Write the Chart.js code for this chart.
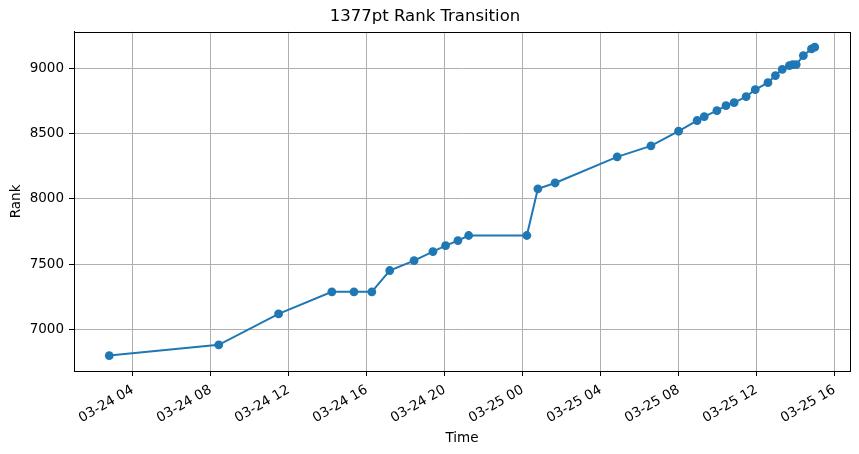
<!DOCTYPE html>
<html>
<head>
<meta charset="utf-8">
<script src="https://cdn.jsdelivr.net/npm/chart.js@4.4.1/dist/chart.umd.min.js"></script>
<style>
  html, body { margin: 0; padding: 0; background: #fff; }
  #wrap { width: 859px; height: 454px; }
</style>
</head>
<body>
<div id="wrap"><canvas id="c" width="859" height="454"></canvas></div>
<script>
// ---- data ----
const times = [
  "03-24 02:48", "03-24 08:25", "03-24 11:29", "03-24 14:13", "03-24 15:21",
  "03-24 16:16", "03-24 17:11", "03-24 18:26", "03-24 19:24", "03-24 20:03",
  "03-24 20:41", "03-24 21:14", "03-25 00:13", "03-25 00:47", "03-25 01:40",
  "03-25 04:51", "03-25 06:35", "03-25 08:00", "03-25 08:57", "03-25 09:19",
  "03-25 09:58", "03-25 10:26", "03-25 10:51", "03-25 11:28", "03-25 11:56",
  "03-25 12:35", "03-25 12:58", "03-25 13:19", "03-25 13:41", "03-25 13:51",
  "03-25 14:02", "03-25 14:24", "03-25 14:49", "03-25 14:59"
];
const ranks = [
  6801, 6883, 7120, 7289, 7289,
  7289, 7452, 7528, 7597, 7643,
  7681, 7720, 7720, 8077, 8122,
  8322, 8406, 8518, 8600, 8630,
  8676, 8714, 8737, 8783, 8837,
  8890, 8944, 8992, 9020, 9028,
  9028, 9097, 9148, 9161
];
const xTickLabels = [
  "03-24 04", "03-24 08", "03-24 12", "03-24 16", "03-24 20",
  "03-25 00", "03-25 04", "03-25 08", "03-25 12", "03-25 16"
];
const yTicks = [7000, 7500, 8000, 8500, 9000];
const titleText = "1377pt Rank Transition";
const xTitle = "Time";
const yTitle = "Rank";

// hours since 03-24 00:00
function toHours(s) {
  const m = s.match(/(\d+)-(\d+) (\d+)(?::(\d+))?/);
  const day = parseInt(m[2], 10);
  const h = parseInt(m[3], 10);
  const min = m[4] ? parseInt(m[4], 10) : 0;
  return (day - 24) * 24 + h + min / 60;
}
const points = times.map((t, i) => ({ x: toHours(t), y: ranks[i] }));
const xTickValues = xTickLabels.map(toHours);

// axis limits with 5% margins like matplotlib
const xs = points.map(p => p.x), ys = ranks;
const xMinD = Math.min(...xs), xMaxD = Math.max(...xs);
const yMinD = Math.min(...ys), yMaxD = Math.max(...ys);
const xm = (xMaxD - xMinD) * 0.05, ym = (yMaxD - yMinD) * 0.05;

const BLUE = '#1f77b4';
const FONT = 'DejaVu Sans';
Chart.defaults.font.family = FONT;
Chart.defaults.color = '#000';

const framePlugin = {
  id: 'frame',
  afterDatasetsDraw(chart) {
    const a = chart.chartArea, ctx = chart.ctx;
    ctx.save();
    ctx.strokeStyle = '#000';
    ctx.lineWidth = 1;
    ctx.strokeRect(Math.round(a.left) + 0.5, Math.round(a.top) + 0.5,
                   Math.round(a.right - a.left), Math.round(a.bottom - a.top));
    ctx.restore();
  }
};

new Chart(document.getElementById('c'), {
  type: 'line',
  data: {
    datasets: [{
      data: points,
      borderColor: BLUE,
      backgroundColor: BLUE,
      borderWidth: 2,
      pointRadius: 4.4,
      pointHoverRadius: 4.4,
      pointBackgroundColor: BLUE,
      pointBorderColor: BLUE,
      pointBorderWidth: 0,
      tension: 0,
      fill: false
    }]
  },
  options: {
    responsive: false,
    animation: false,
    devicePixelRatio: 1,
    layout: { padding: { left: 0, right: 9, top: 0, bottom: 0 } },
    plugins: {
      legend: { display: false },
      tooltip: { enabled: false },
      title: {
        display: true,
        text: titleText,
        color: '#000',
        font: { family: FONT, size: 16.5, weight: 'normal' },
        padding: { top: 7, bottom: 5 }
      }
    },
    scales: {
      x: {
        type: 'linear',
        min: xMinD - xm,
        max: xMaxD + xm,
        afterBuildTicks(scale) { scale.ticks = xTickValues.map(v => ({ value: v })); },
        afterFit(scale) { scale.height = 83; },
        ticks: {
          autoSkip: false,
          minRotation: 30,
          maxRotation: 30,
          padding: 6,
          color: '#000',
          font: { family: FONT, size: 13.5 },
          callback(value) {
            const i = xTickValues.findIndex(v => Math.abs(v - value) < 1e-6);
            return i >= 0 ? xTickLabels[i] : '';
          }
        },
        grid: { color: '#b0b0b0', lineWidth: 1, drawTicks: true, tickLength: 5, tickColor: '#000' },
        border: { display: true, color: '#000', width: 1 },
        title: { display: true, text: xTitle, color: '#000', font: { family: FONT, size: 13.5 }, padding: { top: 0, bottom: 7 } }
      },
      y: {
        type: 'linear',
        min: yMinD - ym,
        max: yMaxD + ym,
        afterBuildTicks(scale) { scale.ticks = yTicks.map(v => ({ value: v })); },
        afterFit(scale) { scale.width = 74; },
        ticks: {
          padding: 5,
          color: '#000',
          font: { family: FONT, size: 13.5 },
          callback(value) { return String(value); }
        },
        grid: { color: '#b0b0b0', lineWidth: 1, drawTicks: true, tickLength: 5, tickColor: '#000' },
        border: { display: true, color: '#000', width: 1 },
        title: { display: true, text: yTitle, color: '#000', font: { family: FONT, size: 13.5 }, padding: { top: 8, bottom: 0 } }
      }
    }
  },
  plugins: [framePlugin]
});
</script>
</body>
</html>
